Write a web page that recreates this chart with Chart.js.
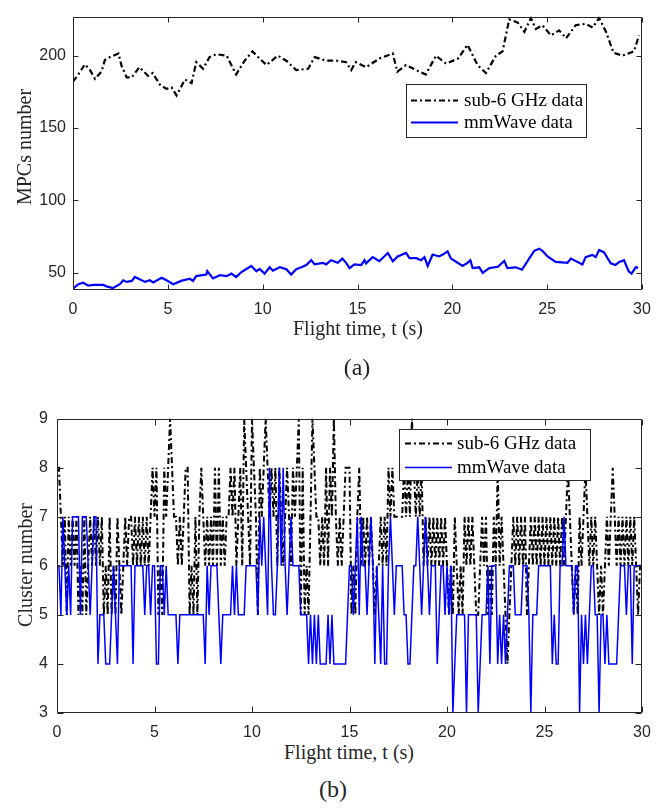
<!DOCTYPE html>
<html><head><meta charset="utf-8">
<script src="https://cdn.jsdelivr.net/npm/chart.js@4.4.0/dist/chart.umd.min.js"></script>
<style>
html,body{margin:0;padding:0;background:#fff;width:672px;height:810px;overflow:hidden;}
canvas{position:absolute;left:0;}
.t{position:absolute;font-family:"Liberation Serif","Times New Roman",serif;color:#262626;white-space:nowrap;line-height:1;}
</style></head><body>
<canvas id="c1" width="672" height="320" style="top:0px"></canvas>
<canvas id="c2" width="672" height="340" style="top:400px"></canvas>
<div class="t" style="left:24px;top:147px;font-size:20px;transform:translate(-50%,-50%) rotate(-90deg)">MPCs number</div>
<div class="t" style="left:358px;top:328px;font-size:20px;transform:translate(-50%,-50%)">Flight time, t (s)</div>
<div class="t" style="left:357px;top:367px;font-size:24px;transform:translate(-50%,-50%)">(a)</div>
<div class="t" style="left:25px;top:565px;font-size:20px;transform:translate(-50%,-50%) rotate(-90deg)">Cluster number</div>
<div class="t" style="left:349px;top:752px;font-size:20px;transform:translate(-50%,-50%)">Flight time, t (s)</div>
<div class="t" style="left:333px;top:789px;font-size:24px;transform:translate(-50%,-50%)">(b)</div>
<script>
// ---------- Data ----------
// (a) MPCs number: [time s, value]
const sub6MPC = [
[0,182],[0.28,187],[0.63,194],[0.9,190],[1.16,184],[1.5,189],[1.68,197],[1.95,199],[2.4,201.5],[2.56,193],[2.83,185],[3.1,185],[3.5,192],[3.96,186],[4.2,188],[4.58,180],[4.93,177],[5.2,178],[5.46,172.5],[5.9,183.5],[6.25,181],[6.5,195.5],[6.86,191],[7.2,199],[7.56,201],[8.1,200],[8.6,187],[9.05,196.5],[9.46,203],[9.84,198],[10.2,193.5],[10.8,200],[11.25,196.5],[11.77,190],[12.4,191],[12.74,199],[13.35,196.5],[13.88,196.5],[14.4,195.5],[14.67,190],[14.9,195.5],[15.45,192],[16.15,198],[16.86,201.5],[17.1,189],[17.56,193.5],[18.1,190],[18.6,187],[19.14,200],[19.67,194.5],[20.3,198],[20.8,207.5],[21.33,193.5],[21.77,188],[22.3,200],[22.65,203],[23.0,225],[23.44,223],[23.8,216.5],[24.14,226],[24.4,218.5],[24.75,221],[25.2,214],[25.63,217.5],[26.0,212],[26.5,221],[27.03,222],[27.4,219.5],[27.74,226],[28.1,216.5],[28.5,202],[28.97,200],[29.58,203],[29.84,214]
];
const mmwMPC = [
[0,39],[0.28,42],[0.54,43],[0.8,41],[1.07,41.5],[1.6,41.5],[1.77,40.5],[2.1,39.3],[2.47,42],[2.65,44.7],[2.83,43.6],[3.1,44.3],[3.26,47],[3.8,43.6],[4.05,44.7],[4.23,43.2],[4.67,46.5],[4.93,44.7],[5.28,42],[5.7,44.3],[6.16,45.8],[6.33,44.3],[6.5,47.6],[7.03,48.7],[7.08,51],[7.38,46],[7.74,48.2],[8.1,47.6],[8.35,49.3],[8.6,47],[8.88,50.4],[9.4,54.6],[9.67,51],[9.84,52.6],[10.1,49.3],[10.37,53.7],[10.54,51.3],[10.9,53.7],[11.25,52.4],[11.5,48.7],[11.77,52.4],[12.04,53.7],[12.3,55.3],[12.56,58.6],[12.74,55.7],[13.17,56.8],[13.35,55.7],[13.6,58.6],[13.96,56.8],[14.2,59.7],[14.4,56.8],[14.58,53.1],[14.84,55.7],[15.2,55.3],[15.37,58.6],[15.45,56.4],[15.8,60.7],[16.15,57.9],[16.6,63.6],[16.86,57.9],[17.12,61.2],[17.56,63.6],[17.74,60],[18.1,60],[18.35,58.6],[18.53,60.7],[18.7,54.6],[18.96,62.5],[19.3,61.2],[19.5,62.5],[19.75,64.7],[19.93,59.7],[20.28,56.8],[20.54,54.6],[20.8,56.8],[20.95,58.6],[21.07,53.1],[21.42,53.7],[21.6,49.8],[21.95,53.1],[22.4,54.1],[22.74,58.1],[22.9,53.1],[23.35,53.7],[23.67,52],[24.05,59.7],[24.32,65.1],[24.58,66.6],[24.75,65.1],[25.02,61.2],[25.45,57.4],[26.07,56.8],[26.25,59.7],[26.86,55.7],[27.03,60.7],[27.38,62.3],[27.56,60.7],[27.74,65.6],[28.0,64],[28.35,56.4],[28.6,55.3],[28.8,57.4],[29.05,58.6],[29.3,50.9],[29.45,49.3],[29.67,53.7],[29.8,53.5]
];
// (b) Cluster number, one sample every 0.1 s from t = 0 to 30 s
const sub6Cluster = [
8,8,7,6,7,5,7,6,7,6, 7,5,6,5,7,5,6,7,6,7, 6,7,6,7,5,6,5,7,5,6, 5,7,6,5,6,7,6,7,7,6,
7,6,7,6,7,6,7,6,7,8, 7,8,5,6,5,8,7,8,9,8, 7,7,6,7,6,7,8,8,5,6, 5,7,5,7,8,7,6,7,6,7,
6,8,6,8,6,7,6,7,7,8, 7,8,6,7,8,6,9,8,7,6, 9,8,7,5,8,7,8,9,8,7, 8,7,8,6,8,7,6,7,8,7,
6,8,7,8,9,5,8,5,6,5, 7,9,8,7,7,6,7,6,8,6, 8,7,9,7,6,7,6,7,8,8, 8,5,6,5,7,8,6,7,6,7,
6,7,6,5,6,6,7,6,7,6, 8,7,8,7,7,7,7,7,8,7, 8,7,9,8,7,8,7,8,6,7, 6,7,6,7,6,7,6,7,6,7,
6,5,6,5,7,6,5,6,5,7, 6,7,6,7,6,5,5,6,7,6, 7,5,6,5,7,6,8,6,7,6, 5,4,5,6,7,6,7,6,7,6,
7,5,6,7,6,7,6,7,6,7, 6,7,6,7,6,7,6,7,6,7, 6,7,8,7,6,5,6,5,7,6, 7,8,7,6,7,6,7,6,5,6,
5,6,7,6,7,8,7,6,7,6, 7,6,7,6,7,6,7,6,5,6, 6
];
const mmwCluster = [
6,6,5,7,6,5,6,5,7,7, 7,7,5,7,7,7,6,5,6,7, 7,4,5,5,5,4,4,4,5,6, 5,4,6,6,6,6,6,6,6,4,
6,6,6,6,6,5,6,6,5,6, 6,4,4,6,6,5,6,5,5,5, 5,5,4,5,5,5,5,5,5,5, 5,5,5,5,5,5,4,6,5,6,
6,6,6,5,4,5,5,5,5,5, 6,5,6,5,5,5,5,6,6,6, 6,6,6,5,7,6,7,6,5,8, 6,5,5,6,8,6,8,6,5,6,
7,6,6,6,6,5,5,5,5,4, 5,4,5,4,5,4,4,4,4,5, 4,5,4,4,4,4,4,4,4,5, 6,6,5,6,7,5,7,6,6,5,
6,7,6,4,6,5,4,6,4,4, 6,7,6,5,6,6,6,6,5,5, 4,4,5,6,6,7,6,5,6,7, 6,5,6,6,6,4,5,6,6,5,
6,5,6,3,4,5,5,5,5,5, 3,5,5,5,5,5,3,4,5,5, 5,6,4,6,6,6,4,5,4,5, 4,5,6,6,6,5,5,5,5,6,
6,6,5,3,5,5,5,6,6,6, 6,6,6,6,4,5,4,4,6,6, 7,6,6,6,6,5,6,6,3,5, 4,5,4,5,6,6,5,5,3,5,
5,4,5,4,4,4,4,4,5,6, 6,6,5,6,6,4,6,6,6,6, 6
];
const xTicks = [0,5,10,15,20,25,30];
const yTicksA = [50,100,150,200];
const yTicksB = [3,4,5,6,7,8,9];
const seriesNames = ['sub-6 GHz data','mmWave data'];

// ---------- helpers ----------
const toXY = arr => arr.map(p => ({x:p[0], y:p[1]}));
const clusterXY = arr => arr.map((v,i) => ({x:i/10, y:v}));
const AXIS = '#262626';
const DASH = [6,3,2,3];

const frame = {
  id:'frame',
  afterDatasetsDraw(chart, args, opts){
    const {ctx, chartArea:a, scales:{x, y}} = chart;
    ctx.save();
    ctx.strokeStyle = AXIS; ctx.lineWidth = 1;
    const L = Math.round(a.left)+0.5, R = Math.round(a.right)-0.5, T = Math.round(a.top)+0.5, B = Math.round(a.bottom)-0.5;
    ctx.beginPath(); ctx.rect(L, T, R-L, B-T); ctx.stroke();
    const tl = opts.tick || 5;
    ctx.beginPath();
    x.ticks.forEach(t => { const px = Math.round(x.getPixelForValue(t.value))+0.5;
      ctx.moveTo(px,B); ctx.lineTo(px,B-tl); ctx.moveTo(px,T); ctx.lineTo(px,T+tl); });
    y.ticks.forEach(t => { const py = Math.round(y.getPixelForValue(t.value))+0.5;
      ctx.moveTo(L,py); ctx.lineTo(L+tl,py); ctx.moveTo(R,py); ctx.lineTo(R-tl,py); });
    ctx.stroke();
    // legend
    const lg = opts.legend;
    if (lg) {
      ctx.fillStyle = '#fff';
      ctx.fillRect(lg.x, lg.y, lg.w, lg.h);
      ctx.strokeRect(lg.x+0.5, lg.y+0.5, lg.w, lg.h);
      ctx.font = lg.font;
      ctx.textBaseline = 'middle';
      chart.data.datasets.slice().sort((p,q)=>p.legendIndex-q.legendIndex).forEach((ds, i) => {
        const ry = lg.rows[i];
        ctx.save();
        ctx.strokeStyle = ds.borderColor; ctx.lineWidth = lg.lw[i];
        ctx.setLineDash(ds.borderDash || []);
        ctx.beginPath(); ctx.moveTo(lg.lx0, ry+0.5); ctx.lineTo(lg.lx1, ry+0.5); ctx.stroke();
        ctx.restore();
        ctx.fillStyle = '#000';
        ctx.fillText(ds.label, lg.tx, ry+1);
      });
    }
    ctx.restore();
  }
};

Chart.defaults.font.family = '"Liberation Sans", Arial, sans-serif';
Chart.defaults.font.size = 16;
Chart.defaults.color = AXIS;

function makeChart(id, cfg){
  return new Chart(document.getElementById(id), {
    type:'line',
    data:{ datasets: cfg.datasets },
    options:{
      responsive:false, animation:false, devicePixelRatio:1,
      layout:{ padding:{ left:0, right:cfg.padR, top:cfg.padT, bottom:0 } },
      elements:{ point:{ radius:0 }, line:{ tension:0 } },
      plugins:{ legend:{display:false}, tooltip:{enabled:false}, frame:cfg.frame },
      scales:{
        x:{ type:'linear', min:0, max:30,
            grid:{display:false, drawTicks:false}, border:{display:false},
            ticks:{ padding:cfg.xPad, maxRotation:0 },
            afterBuildTicks: s => { s.ticks = xTicks.map(v=>({value:v})); },
            afterFit: s => { s.height = cfg.xH; } },
        y:{ type:'linear', min:cfg.yMin, max:cfg.yMax,
            grid:{display:false, drawTicks:false}, border:{display:false},
            ticks:{ padding:cfg.yPad },
            afterBuildTicks: s => { s.ticks = cfg.yTicks.map(v=>({value:v})); },
            afterFit: s => { s.width = cfg.yW; } }
      }
    },
    plugins:[frame]
  });
}

makeChart('c1', {
  padR:30, padT:4, xH:30, yW:73, xPad:10, yPad:7, yMin:38, yMax:227, yTicks:yTicksA,
  datasets:[
    { label:seriesNames[1], legendIndex:1, data:toXY(mmwMPC), borderColor:'#0000ff', borderWidth:2.2, order:0 },
    { label:seriesNames[0], legendIndex:0, data:toXY(sub6MPC), borderColor:'#000000', borderWidth:2.2, borderDash:DASH, order:1 }
  ],
  frame:{ tick:5, legend:{ x:406, y:84, w:180, h:53, rows:[100,122], lx0:411, lx1:458, tx:464, lw:[2.2,2.2], font:'19px "Liberation Serif", "Times New Roman", serif' } }
});

makeChart('c2', {
  padR:30, padT:17, xH:27, yW:57, xPad:10, yPad:9, yMin:3, yMax:9, yTicks:yTicksB,
  datasets:[
    { label:seriesNames[1], legendIndex:1, data:clusterXY(mmwCluster), borderColor:'#0000ff', borderWidth:1.5, order:0 },
    { label:seriesNames[0], legendIndex:0, data:clusterXY(sub6Cluster), borderColor:'#000000', borderWidth:2, borderDash:DASH, order:1 }
  ],
  frame:{ tick:6, legend:{ x:399, y:29, w:191, h:51, rows:[43,67], lx0:405, lx1:452, tx:457, lw:[2,1.5], font:'19px "Liberation Serif", "Times New Roman", serif' } }
});
</script>
</body></html>
